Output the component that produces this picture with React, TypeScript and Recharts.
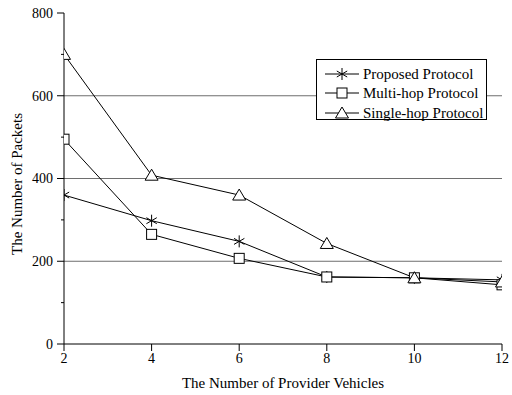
import { LineChart, Line, XAxis, YAxis, ReferenceLine, Legend, Label } from 'recharts'

const X_VALUES = [2, 4, 6, 8, 10, 12]
const PROPOSED = [360, 298, 248, 162, 160, 155]
const MULTI_HOP = [495, 265, 207, 162, 160, 143]
const SINGLE_HOP = [700, 408, 360, 243, 160, 150]

const X_TICKS = [2, 4, 6, 8, 10, 12]
const Y_TICKS = [0, 100, 200, 300, 400, 500, 600, 700, 800]
const GRID_VALUES = [200, 400, 600]

const SERIES = [
  { key: 'proposed', name: 'Proposed Protocol', marker: 'star' },
  { key: 'multi', name: 'Multi-hop Protocol', marker: 'square' },
  { key: 'single', name: 'Single-hop Protocol', marker: 'triangle' },
]

const data = X_VALUES.map((x, i) => ({
  x,
  proposed: PROPOSED[i],
  multi: MULTI_HOP[i],
  single: SINGLE_HOP[i],
}))

const FONT = "'Liberation Serif', 'Times New Roman', serif"
const MARGIN = { top: 13, right: 10, left: 0, bottom: 0 }
const CHART_W = 512
const CHART_H = 395
const Y_AXIS_W = 64
const X_AXIS_H = 51

// plot frame, from the chart layout
const FRAME = {
  x: MARGIN.left + Y_AXIS_W,
  y: MARGIN.top,
  width: CHART_W - MARGIN.left - MARGIN.right - Y_AXIS_W,
  height: CHART_H - MARGIN.top - MARGIN.bottom - X_AXIS_H,
}

function Marker({ type, cx, cy }: { type: string; cx: number; cy: number }) {
  if (type === 'square') {
    return <rect x={cx - 5} y={cy - 5} width={10} height={10} fill="#fff" stroke="#000" strokeWidth={1} />
  }
  if (type === 'triangle') {
    return (
      <polygon
        points={`${cx},${cy - 6} ${cx + 6.5},${cy + 5} ${cx - 6.5},${cy + 5}`}
        fill="#fff"
        stroke="#000"
        strokeWidth={1}
      />
    )
  }
  // six-armed asterisk
  const r = 6
  const dx = r * Math.cos(Math.PI / 6)
  const dy = r * Math.sin(Math.PI / 6)
  return (
    <g stroke="#000" strokeWidth={1}>
      <line x1={cx} y1={cy - r} x2={cx} y2={cy + r} />
      <line x1={cx - dx} y1={cy - dy} x2={cx + dx} y2={cy + dy} />
      <line x1={cx - dx} y1={cy + dy} x2={cx + dx} y2={cy - dy} />
    </g>
  )
}

// markers are cut at the plot frame, like the original
const makeDot = (type: string) => (props: any) => {
  const id = `clip-${type}-${props.index}`
  return (
    <g key={`${type}-${props.index}`}>
      <defs>
        <clipPath id={id}>
          <rect x={FRAME.x} y={FRAME.y} width={FRAME.width} height={FRAME.height} />
        </clipPath>
      </defs>
      <g clipPath={`url(#${id})`}>
        <Marker type={type} cx={props.cx} cy={props.cy} />
      </g>
    </g>
  )
}

function LeftTick(props: any) {
  const { x, y, payload } = props
  const axisX = x + 9
  const major = payload.value % 200 === 0
  return (
    <g>
      <line x1={axisX - (major ? 7 : 3)} x2={axisX} y1={y} y2={y} stroke="#000" />
      {major && (
        <text x={x - 2} y={y} dy="0.35em" textAnchor="end" fontSize={14} fontFamily={FONT} fill="#000">
          {payload.value}
        </text>
      )}
    </g>
  )
}

function renderLegend() {
  return (
    <div
      style={{
        boxSizing: 'border-box',
        border: '1px solid #000',
        background: '#fff',
        height: 61,
        paddingTop: 4,
        fontFamily: FONT,
        fontSize: 15,
        color: '#000',
      }}
    >
      {SERIES.map((s) => (
        <div key={s.key} style={{ display: 'flex', alignItems: 'center', height: 19.5 }}>
          <svg width={34} height={16} style={{ marginLeft: 8 }}>
            <line x1={0} x2={34} y1={8} y2={8} stroke="#000" />
            <Marker type={s.marker} cx={17} cy={8} />
          </svg>
          <span style={{ marginLeft: 4, lineHeight: '16px' }}>{s.name}</span>
        </div>
      ))}
    </div>
  )
}

export default function App() {
  return (
    <div style={{ position: 'absolute', left: 0, top: 0, background: '#fff', fontFamily: FONT }}>
      <LineChart width={CHART_W} height={CHART_H} data={data} margin={MARGIN} style={{ fontFamily: FONT }}>
        <XAxis
          dataKey="x"
          type="number"
          domain={[2, 12]}
          ticks={X_TICKS}
          allowDataOverflow
          height={X_AXIS_H}
          tickSize={7}
          stroke="#000"
          tick={{ fontSize: 14, fontFamily: FONT, fill: '#000' }}
        >
          <Label
            content={() => (
              <text x={283} y={388} textAnchor="middle" fontSize={15} fontFamily={FONT} fill="#000">
                The Number of Provider Vehicles
              </text>
            )}
          />
        </XAxis>
        <XAxis
          xAxisId="top"
          orientation="top"
          dataKey="x"
          type="number"
          domain={[2, 12]}
          ticks={X_TICKS}
          height={0}
          tickLine={false}
          tickFormatter={() => ''}
          stroke="#000"
        />
        <YAxis
          type="number"
          domain={[0, 800]}
          ticks={Y_TICKS}
          width={Y_AXIS_W}
          tickSize={7}
          tickLine={false}
          stroke="#000"
          tick={<LeftTick />}
        >
          <Label
            content={() => (
              <text
                x={22}
                y={184}
                transform="rotate(-90, 22, 184)"
                textAnchor="middle"
                fontSize={15}
                fontFamily={FONT}
                fill="#000"
              >
                The Number of Packets
              </text>
            )}
          />
        </YAxis>
        <YAxis
          yAxisId="right"
          orientation="right"
          type="number"
          domain={[0, 800]}
          ticks={Y_TICKS}
          width={0}
          mirror
          tickSize={4}
          tickFormatter={() => ''}
          stroke="#000"
        />
        {GRID_VALUES.map((v) => (
          <ReferenceLine key={v} y={v} stroke="#6e6e6e" strokeWidth={1} />
        ))}
        <Legend
          layout="vertical"
          align="center"
          verticalAlign="middle"
          content={renderLegend}
          wrapperStyle={{ left: 316, top: 59, width: 171 }}
        />
        {SERIES.map((s) => (
          <Line
            key={s.key}
            dataKey={s.key}
            name={s.name}
            stroke="#000"
            strokeWidth={1}
            dot={makeDot(s.marker)}
            activeDot={false}
            isAnimationActive={false}
          />
        ))}
      </LineChart>
    </div>
  )
}
